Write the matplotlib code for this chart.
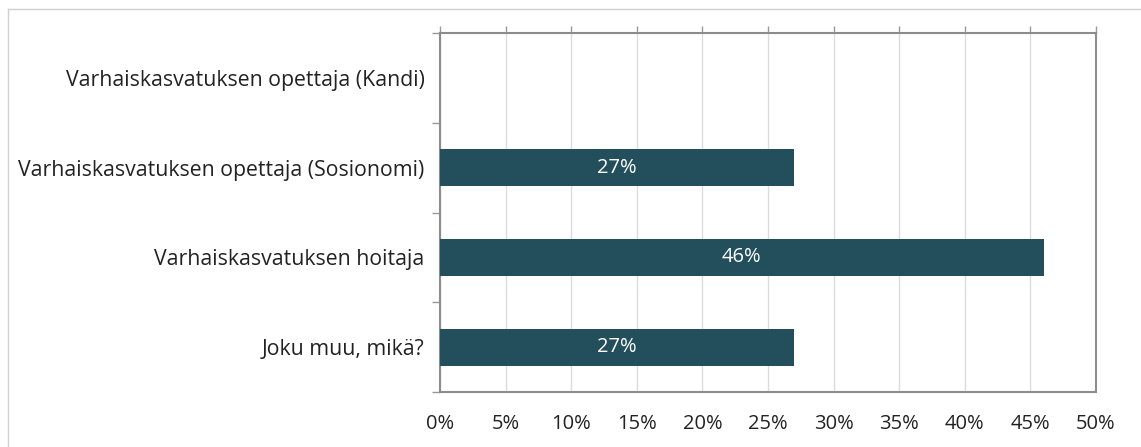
import matplotlib.pyplot as plt
from matplotlib.lines import Line2D

# data (top to bottom as in the chart)
categories = ['Varhaiskasvatuksen opettaja (Kandi)',
              'Varhaiskasvatuksen opettaja (Sosionomi)',
              'Varhaiskasvatuksen hoitaja',
              'Joku muu, mikä?']
values = [0, 27, 46, 27]
xticks = [0, 5, 10, 15, 20, 25, 30, 35, 40, 45, 50]

plt.rcParams['font.family'] = ['Open Sans', 'DejaVu Sans']

fig = plt.figure(figsize=(11.41, 4.47), dpi=100)
ax = fig.add_axes([440 / 1141, 1 - 392 / 447, 656 / 1141, 359 / 447])

pos = list(range(len(categories)))[::-1]
ax.barh(pos, values, height=0.41, color='#234e5c', edgecolor='none', zorder=3)
for p, v in zip(pos, values):
    if v > 0:
        ax.text(v / 2, p, f'{v}%', color='white', ha='center', va='center',
                fontsize=14.5, zorder=4)

ax.set_xlim(0, 50)
ax.set_ylim(-0.5, len(categories) - 0.5)
ax.set_xticks(xticks)
ax.set_xticklabels([f'{t}%' for t in xticks], fontsize=14.5, color='#222222')
ax.tick_params(axis='x', which='major', length=5, color='#999999', width=1,
               pad=11, top=True, bottom=False, labeltop=False, labelbottom=True,
               direction='out')
ax.set_yticks(pos)
ax.set_yticklabels(categories, fontsize=15.3, color='#222222')
ax.tick_params(axis='y', which='major', length=0, pad=11)
# tick marks between categories
ax.set_yticks([p - 0.5 for p in range(len(categories) + 1)], minor=True)
ax.tick_params(axis='y', which='minor', length=6, color='#999999', width=1)

ax.grid(axis='x', color='#dcdcdc', linewidth=1, zorder=0)
for s in ax.spines.values():
    s.set_color('#8c8c8c')
    s.set_linewidth(1.5)

# outer frame lines (top and left)
fig.add_artist(Line2D([8 / 1141, 1], [1 - 9 / 447, 1 - 9 / 447],
                      color='#d0d0d0', linewidth=1, transform=fig.transFigure))
fig.add_artist(Line2D([8 / 1141, 8 / 1141], [0, 1 - 9 / 447],
                      color='#d0d0d0', linewidth=1, transform=fig.transFigure))

fig.savefig('out.png', dpi=100)
